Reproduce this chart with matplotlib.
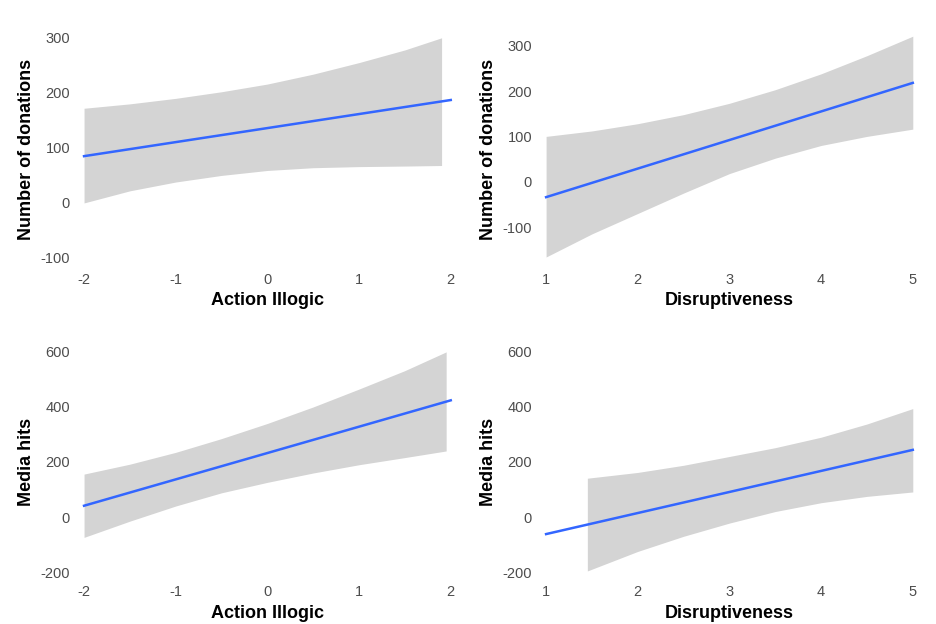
import matplotlib
matplotlib.use("Agg")
import matplotlib.pyplot as plt

plt.rcParams['font.family'] = ['Liberation Sans', 'DejaVu Sans']
plt.rcParams['axes.unicode_minus'] = False

# Panel 1: Action Illogic vs donations
p1_line_x = [-2, 2]; p1_line_y = [85, 187]
p1_rib_x = [-2, -1.5, -1, -0.5, 0, 0.5, 1, 1.5, 1.9]
p1_up = [172, 180, 190, 202, 216, 234, 255, 278, 300]
p1_lo = [0, 22, 38, 50, 59, 64, 66, 67, 68]
# Panel 2: Disruptiveness vs donations
p2_line_x = [1, 5]; p2_line_y = [-34, 218]
p2_rib_x = [1, 1.5, 2, 2.5, 3, 3.5, 4, 4.5, 5]
p2_up = [100, 112, 128, 148, 173, 203, 238, 278, 321]
p2_lo = [-166, -115, -70, -25, 18, 52, 80, 100, 116]
# Panel 3: Action Illogic vs media hits
p3_line_x = [-2, 2]; p3_line_y = [41, 424]
p3_rib_x = [-2, -1.5, -1, -0.5, 0, 0.5, 1, 1.5, 1.95]
p3_up = [156, 192, 235, 285, 340, 400, 465, 532, 600]
p3_lo = [-74, -15, 40, 88, 126, 160, 190, 216, 240]
# Panel 4: Disruptiveness vs media hits
p4_line_x = [1, 5]; p4_line_y = [-62, 244]
p4_rib_x = [1.45, 2, 2.5, 3, 3.5, 4, 4.5, 5]
p4_up = [141, 162, 188, 220, 252, 290, 338, 394]
p4_lo = [-196, -125, -70, -22, 20, 52, 75, 91]

panels = [
    (p1_line_x, p1_line_y, p1_rib_x, p1_up, p1_lo, "Action Illogic", "Number of donations", [-100, 0, 100, 200, 300], (-118, 312), [-2, -1, 0, 1, 2], (-2.1, 2.1)),
    (p2_line_x, p2_line_y, p2_rib_x, p2_up, p2_lo, "Disruptiveness", "Number of donations", [-100, 0, 100, 200, 300], (-190, 332), [1, 2, 3, 4, 5], (0.9, 5.1)),
    (p3_line_x, p3_line_y, p3_rib_x, p3_up, p3_lo, "Action Illogic", "Media hits", [-200, 0, 200, 400, 600], (-230, 630), [-2, -1, 0, 1, 2], (-2.1, 2.1)),
    (p4_line_x, p4_line_y, p4_rib_x, p4_up, p4_lo, "Disruptiveness", "Media hits", [-200, 0, 200, 400, 600], (-230, 630), [1, 2, 3, 4, 5], (0.9, 5.1)),
]

fig, axes = plt.subplots(2, 2, figsize=(9.36, 6.24), dpi=100)
for ax, (lx, ly, rx, up, lo, xl, yl, yt, ylim, xt, xlim) in zip(axes.flat, panels):
    ax.fill_between(rx, lo, up, color="#d4d4d4", lw=0)
    ax.plot(lx, ly, color="#3366FF", lw=1.8)
    for s in ax.spines.values():
        s.set_visible(False)
    ax.set_yticks(yt); ax.set_ylim(*ylim)
    ax.set_xticks(xt); ax.set_xlim(*xlim)
    ax.tick_params(length=0, labelsize=10.5, colors="#4d4d4d")
    ax.set_xlabel(xl, fontsize=13, fontweight="bold")
    ax.set_ylabel(yl, fontsize=13, fontweight="bold")

fig.subplots_adjust(left=0.08, right=0.985, top=0.95, bottom=0.07, wspace=0.2, hspace=0.32)
fig.savefig("out.png", dpi=100)
